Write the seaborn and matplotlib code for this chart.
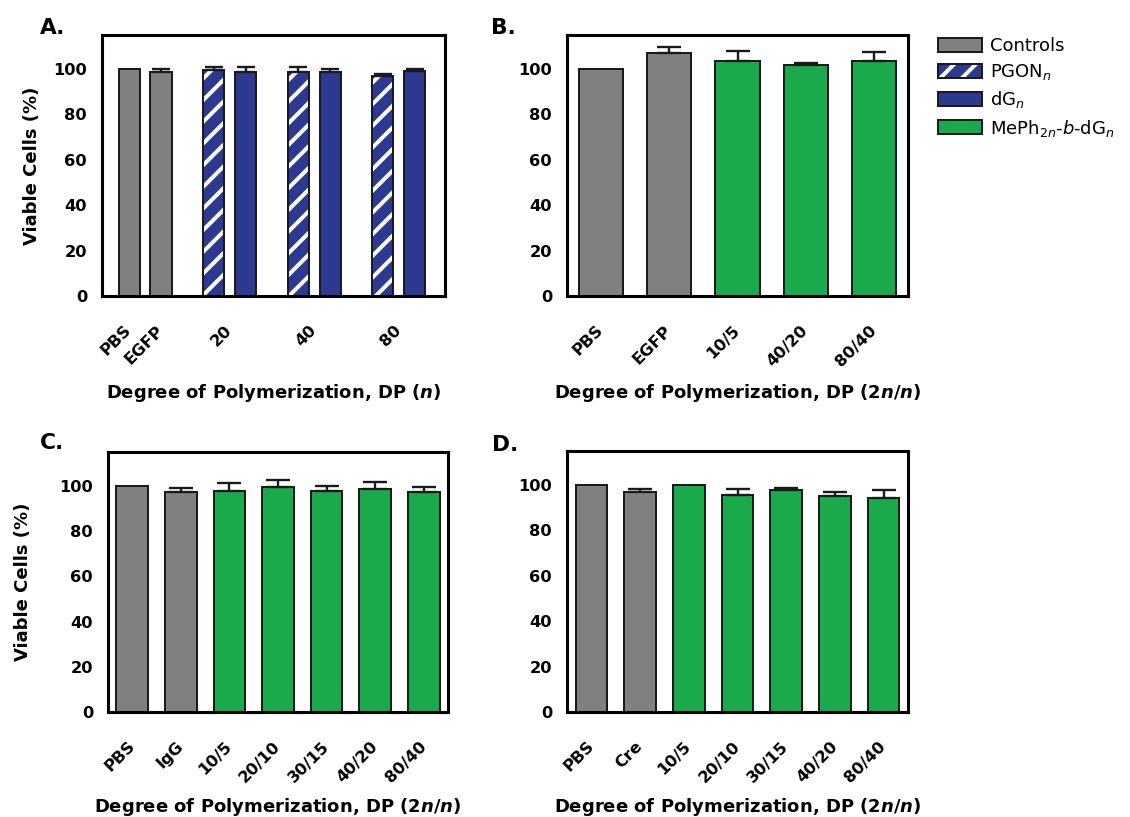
import numpy as np
import pandas as pd
import matplotlib
matplotlib.use("Agg")
import matplotlib.pyplot as plt
from matplotlib.colors import to_rgba
from matplotlib.patches import Patch
import seaborn as sns

# ---------------- data ----------------
# Panel A: PGON_n and dG_n at three chain lengths
a_controls = ["PBS", "EGFP"]
a_control_mean = [100.0, 98.5]
a_control_sd = [0.0, 1.5]
a_dp = ["20", "40", "80"]
a_pgon_mean = [99.6, 98.5, 96.8]
a_pgon_sd = [1.2, 2.2, 0.8]
a_dg_mean = [98.8, 98.8, 99.1]
a_dg_sd = [2.0, 1.2, 0.9]

# Panel B: MePh2n-b-dGn block copolymers
b_controls = ["PBS", "EGFP"]
b_control_mean = [100.0, 106.9]
b_control_sd = [0.0, 2.7]
b_dp = ["10/5", "40/20", "80/40"]
b_block_mean = [103.7, 102.0, 103.5]
b_block_sd = [4.3, 0.5, 4.0]

# Panel C
c_controls = ["PBS", "IgG"]
c_control_mean = [100.0, 97.2]
c_control_sd = [0.0, 1.8]
c_dp = ["10/5", "20/10", "30/15", "40/20", "80/40"]
c_block_mean = [97.8, 99.7, 97.6, 98.8, 97.5]
c_block_sd = [3.5, 2.7, 2.4, 2.8, 1.9]

# Panel D
d_controls = ["PBS", "Cre"]
d_control_mean = [100.0, 97.1]
d_control_sd = [0.0, 1.3]
d_dp = ["10/5", "20/10", "30/15", "40/20", "80/40"]
d_block_mean = [99.9, 95.6, 97.9, 95.3, 94.1]
d_block_sd = [0.0, 2.5, 0.7, 1.5, 3.5]

y_ticks = [0, 20, 40, 60, 80, 100]

series_names = ["Controls", "PGON", "dG", "MePh"]
legend_labels = ["Controls", r"PGON$_n$", r"dG$_n$", r"MePh$_{\mathrm{2}n}$-$b$-dG$_n$"]

# ---------------- style ----------------
GRAY = "#808080"
NAVY = "#2B3990"
GREEN = "#1AAA4B"
EDGE = "#1a1a1a"
PALETTE = {"Controls": GRAY, "PGON": NAVY, "dG": NAVY, "MePh": GREEN}

sns.set_theme(style="white")
plt.rcParams["font.family"] = ["DejaVu Sans"]
plt.rcParams.update({
    "text.color": "black",
    "axes.labelcolor": "black",
    "xtick.color": "black",
    "ytick.color": "black",
    "hatch.linewidth": 2.2,
    "mathtext.fontset": "custom",
    "mathtext.rm": "DejaVu Sans:weight=normal",
    "mathtext.it": "DejaVu Sans:style=italic:weight=normal",
    "mathtext.bf": "DejaVu Sans:weight=bold",
})
try:
    plt.rcParams["mathtext.bfit"] = "DejaVu Sans:style=italic:weight=bold"
except KeyError:
    pass

W, H, DPI = 1130, 817, 130
fig = plt.figure(figsize=(W / DPI, H / DPI), dpi=DPI)


def box(left, top, right, bottom):
    return [left / W, 1 - bottom / H, (right - left) / W, (bottom - top) / H]


def whiten_hatch(patch):
    if hasattr(patch, "set_hatchcolor"):
        patch.set_hatchcolor("white")
    else:
        patch._hatch_color = to_rgba("white")


def add_errorbars(ax, xs, means, sds, capsize):
    xs, means, sds = np.asarray(xs, float), np.asarray(means, float), np.asarray(sds, float)
    keep = sds > 0
    ax.errorbar(xs[keep], means[keep], yerr=[np.zeros(keep.sum()), sds[keep]],
                fmt="none", ecolor=EDGE, elinewidth=1.3, capsize=capsize,
                capthick=1.3, zorder=3)


def style_axes(ax, ticks, labels, xlabel, xlabel_y, ylabel_x=None):
    ax.set_ylim(0, 115)
    ax.set_yticks(y_ticks, [str(v) for v in y_ticks], fontweight="bold", fontsize=9)
    ax.set_xticks(ticks, labels, rotation=45, ha="right", va="center",
                  rotation_mode="anchor", fontweight="bold", fontsize=9)
    ax.tick_params(axis="both", direction="out", length=6.6, width=1.7, color="black",
                   labelcolor="black")
    ax.tick_params(axis="y", pad=1.7)
    ax.tick_params(axis="x", pad=11)
    for s in ax.spines.values():
        s.set_visible(True)
        s.set_linewidth(1.7)
        s.set_color("black")
    ax.set_xlabel(xlabel, fontsize=10, fontweight="bold", color="black")
    ax.xaxis.set_label_coords(0.5, xlabel_y)
    ax.xaxis.label.set_va("center")
    if ylabel_x is None:
        ax.set_ylabel("")
    else:
        ax.set_ylabel("Viable Cells (%)", fontsize=10, fontweight="bold", color="black")
        ax.yaxis.set_label_coords(ylabel_x, 0.5)
        ax.yaxis.label.set_va("center")
    ax.grid(False)


XLAB_N = r"Degree of Polymerization, DP ($\mathbfit{n}$)"
XLAB_2N = r"Degree of Polymerization, DP (2$\mathbfit{n}$/$\mathbfit{n}$)"

# ---------------- panel A ----------------
ax_a = fig.add_axes(box(102, 35, 445, 296))
GROUP_GAP = 0.65
rows = []
x = 0.0
tick_pos = []
for lab, m, s in zip(a_controls, a_control_mean, a_control_sd):
    rows.append((x, m, s, "Controls"))
    tick_pos.append(x)
    x += 1
pgon_pos = []
for i, dp in enumerate(a_dp):
    x += GROUP_GAP
    rows.append((x, a_pgon_mean[i], a_pgon_sd[i], "PGON"))
    rows.append((x + 1, a_dg_mean[i], a_dg_sd[i], "dG"))
    pgon_pos.append(x)
    tick_pos.append(x + 0.5)
    x += 2
df_a = pd.DataFrame(rows, columns=["pos", "value", "sd", "series"])
sns.barplot(data=df_a, x="pos", y="value", hue="series", palette=PALETTE,
            hue_order=["Controls", "PGON", "dG"], native_scale=True, dodge=False,
            width=0.66, errorbar=None, edgecolor=EDGE, linewidth=1.1,
            saturation=1, legend=False, ax=ax_a)
for p in ax_a.patches:
    cx = p.get_x() + p.get_width() / 2
    if any(abs(cx - q) < 1e-6 for q in pgon_pos):
        p.set_hatch("//")
        whiten_hatch(p)
add_errorbars(ax_a, df_a["pos"], df_a["value"], df_a["sd"], capsize=5)
ax_a.set_xlim(-0.85, 9.9)
style_axes(ax_a, tick_pos, a_controls + a_dp, XLAB_N, -0.372, ylabel_x=-0.204)


# ---------------- panels B, C, D ----------------
def block_panel(rect, controls, cmean, csd, dps, means, sds, xlabel_y, ylabel_x, capsize):
    ax = fig.add_axes(rect)
    df = pd.DataFrame({
        "label": controls + dps,
        "value": cmean + means,
        "sd": csd + sds,
        "series": ["Controls"] * len(controls) + ["MePh"] * len(dps),
    })
    sns.barplot(data=df, x="label", y="value", hue="series", palette=PALETTE,
                dodge=False, width=0.65, errorbar=None, edgecolor=EDGE,
                linewidth=1.1, saturation=1, legend=False, ax=ax)
    xs = ax.get_xticks()
    add_errorbars(ax, xs, df["value"], df["sd"], capsize=capsize)
    ax.set_xlim(-0.5, len(df) - 0.5)
    style_axes(ax, xs, list(df["label"]), XLAB_2N, xlabel_y, ylabel_x)
    return ax


block_panel(box(567, 35, 908, 296), b_controls, b_control_mean, b_control_sd,
            b_dp, b_block_mean, b_block_sd, -0.372, None, 6.4)
block_panel(box(108, 452, 448, 712), c_controls, c_control_mean, c_control_sd,
            c_dp, c_block_mean, c_block_sd, -0.365, -0.25, 6.5)
block_panel(box(567, 451, 908, 712), d_controls, d_control_mean, d_control_sd,
            d_dp, d_block_mean, d_block_sd, -0.365, None, 6.5)

# ---------------- panel letters ----------------
for letter, px, py in [("A.", 40, 28), ("B.", 491, 28), ("C.", 40, 443), ("D.", 492, 445)]:
    fig.text(px / W, 1 - py / H, letter, fontsize=12, fontweight="bold",
             ha="left", va="center", color="black")

# ---------------- legend ----------------
handles = []
for name in series_names:
    h = Patch(facecolor=PALETTE[name], edgecolor=EDGE, linewidth=1.1)
    if name == "PGON":
        h.set_hatch("//")
        whiten_hatch(h)
    handles.append(h)
fig.legend(handles, legend_labels, loc="upper left",
           bbox_to_anchor=(938 / W, 1 - 37 / H), frameon=False, borderpad=0,
           borderaxespad=0, handlelength=2.44, handleheight=0.83,
           handletextpad=0.45, labelspacing=0.4,
           prop={"size": 10, "weight": "normal"})

fig.savefig("out.png", dpi=DPI)
